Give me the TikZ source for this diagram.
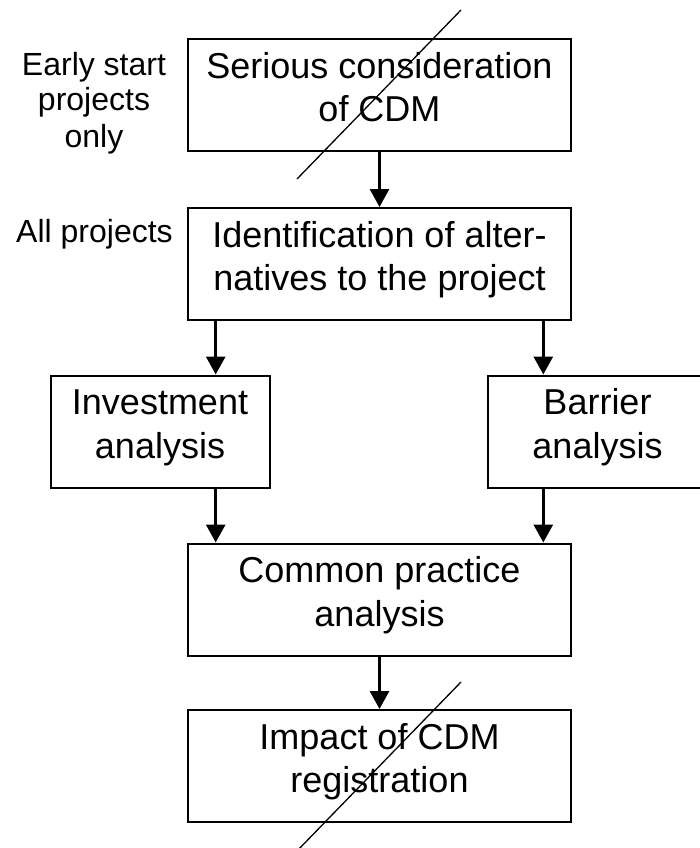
\documentclass[tikz,border=0pt]{standalone}
\usepackage{fontspec}
\setmainfont{Liberation Sans}
\usetikzlibrary{arrows.meta,positioning}

\tikzset{
  stepbox/.style={draw,line width=2pt,inner sep=0pt,minimum width=383pt,align=center,
    font=\fontsize{36}{43.4}\selectfont,text height=82.6pt,text depth=29.4pt},
  sidebox/.style={stepbox,minimum width=219pt},
  note/.style={align=center,font=\fontsize{32}{36}\selectfont,anchor=base},
  flow/.style={-{Triangle[width=19pt,length=18pt]},line width=3pt},
  strike/.style={line width=1.3pt}
}

\begin{document}
\begin{tikzpicture}[x=1pt,y=-1pt]
  \useasboundingbox (0,0) rectangle (700,848);
  % steps
  \node[stepbox,anchor=north] (serious) at (379.5,38) {Serious consideration\\of CDM};
  \node[stepbox,anchor=north] (ident) at (379.5,207) {Identification of alter-\\natives to the project};
  \node[sidebox,anchor=north] (invest) at (160,374.5) {Investment\\analysis};
  \node[sidebox,anchor=north] (barrier) at (597.5,374.5) {Barrier\\analysis};
  \node[stepbox,anchor=north] (common) at (379.5,542.5) {Common practice\\analysis};
  \node[stepbox,anchor=north] (impact) at (379.5,709) {Impact of CDM\\registration};
  % side notes
  \node[note] (early) at (94,147) {Early start\\projects\\only};
  \node[note] (allproj) at (94.5,242) {All projects};
  % arrows
  \coordinate (leftcol) at (215.7,0);
  \coordinate (rightcol) at (543.3,0);
  \draw[flow] (serious.south) -- (ident.north);
  \draw[flow] (ident.south -| leftcol) -- (invest.north -| leftcol);
  \draw[flow] (ident.south -| rightcol) -- (barrier.north -| rightcol);
  \draw[flow] (invest.south -| leftcol) -- (common.north -| leftcol);
  \draw[flow] (barrier.south -| rightcol) -- (common.north -| rightcol);
  \draw[flow] (common.south) -- (impact.north);
  % struck out steps
  \coordinate (cutA) at (461,10);
  \coordinate (cutB) at (297,179);
  \coordinate (cutC) at (461,682);
  \coordinate (cutD) at (296,852);
  \draw[strike] (cutA) -- (cutB);
  \draw[strike] (cutC) -- (cutD);
\end{tikzpicture}
\end{document}
